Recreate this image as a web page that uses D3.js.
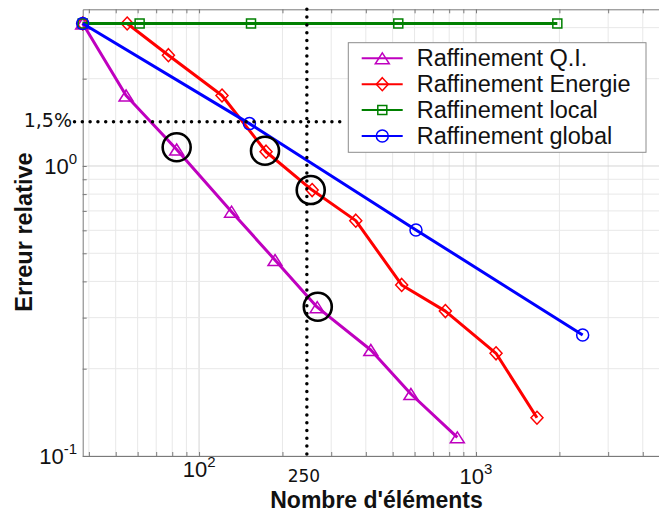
<!DOCTYPE html>
<html><head><meta charset="utf-8">
<script src="https://cdn.jsdelivr.net/npm/d3@7"></script>
<style>body{margin:0;background:#fff} svg{display:block}</style>
</head><body><svg id="c" width="659" height="514"></svg>
<script>
// ---- data ----
const xQI   = [38, 54.5, 83, 131, 188, 267, 417, 582, 856];
const yQI   = [3.10, 1.75, 1.14, 0.696, 0.474, 0.326, 0.232, 0.1636, 0.116];
const xEn   = [38, 55, 77.5, 121, 174.5, 256, 368, 539, 775, 1181, 1660];
const yEn   = [3.10, 3.10, 2.41, 1.75, 1.12, 0.826, 0.648, 0.389, 0.316, 0.226, 0.1355];
const xLoc  = [38, 61, 154, 524, 1966];
const yLoc  = [3.10, 3.10, 3.10, 3.10, 3.10];
const xGlob = [38, 152, 607, 2427];
const yGlob = [3.10, 1.40, 0.602, 0.2614];
const seriesNames = ["Raffinement Q.I.", "Raffinement Energie", "Raffinement local", "Raffinement global"];
const circX = [83, 173, 253, 268.3];
const circY = [1.16, 1.129, 0.826, 0.327];
const xTickValues = [100, 1000];
const xTickExp = ["2", "3"];
const yTickValues = [0.1, 1];
const yTickExp = ["-1", "0"];
const markX = 245, markXLabel = "250";
const markY = 1.42, markYLabel = "1,5%";
const markYFrom = 35.5, markYTo = 325;
const xDomain = [38, 5000];
const yDomain = [0.1, 3.47];
const xLabel = "Nombre d'éléments";
const yLabel = "Erreur relative";

// ---- styles ----
const colors = ["#bf00bf", "#ff0000", "#008000", "#0000ff"];
const markers = ["triangle", "diamond", "square", "circle"];
const xLabelBaselines = [477, 484];

const svg = d3.select("#c");
const L = 82.7, T = 9.3, B = 456;
const x = d3.scaleLog().domain(xDomain).range([L, 669.6]);
const y = d3.scaleLog().domain(yDomain).range([B, T]);
const R = x.range()[1];

const minorX = [];
for (let d = 10; d <= 1000; d *= 10) for (let k = 1; k <= 9; k++) { const v = k*d; if (v >= xDomain[0] && v <= xDomain[1]) minorX.push(v); }
const minorY = [];
for (let d = 0.1; d <= 1.01; d *= 10) for (let k = 1; k <= 9; k++) { const v = +(k*d).toFixed(3); if (v >= yDomain[0] && v <= yDomain[1]) minorY.push(v); }

// grid
const g = svg.append("g");
g.selectAll(".gx").data(minorX).join("line")
  .attr("x1", d => x(d)).attr("x2", d => x(d)).attr("y1", T).attr("y2", B)
  .attr("stroke", d => xTickValues.includes(d) ? "#d4d4d4" : "#e8e8e8").attr("stroke-width", 1);
g.selectAll(".gy").data(minorY).join("line")
  .attr("y1", d => y(d)).attr("y2", d => y(d)).attr("x1", L).attr("x2", R)
  .attr("stroke", d => yTickValues.includes(d) ? "#d4d4d4" : "#e8e8e8").attr("stroke-width", 1);

// axes (inward ticks)
const axCol = "#7a7a7a";
function styleAxis(sel){ sel.select(".domain").attr("stroke", axCol); sel.selectAll(".tick line").attr("stroke", axCol); }
svg.append("g").attr("transform", `translate(0,${B})`)
  .call(d3.axisBottom(x).tickValues(minorX).tickSize(-4).tickSizeOuter(0).tickFormat("")).call(styleAxis);
svg.append("g").attr("transform", `translate(0,${T})`)
  .call(d3.axisTop(x).tickValues(minorX).tickSize(-4).tickSizeOuter(0).tickFormat("")).call(styleAxis);
svg.append("g").attr("transform", `translate(${L},0)`)
  .call(d3.axisLeft(y).tickValues(minorY).tickSize(-4).tickSizeOuter(0).tickFormat("")).call(styleAxis);

// tick labels
const font = "'Liberation Sans', Arial, sans-serif";
xTickValues.forEach((v, i) => {
  const t = svg.append("text").attr("x", x(v)).attr("y", xLabelBaselines[i]).attr("text-anchor", "middle")
    .attr("font-family", font).attr("font-size", 22).attr("fill", "#111");
  t.append("tspan").text("10");
  t.append("tspan").attr("font-size", 15).attr("dy", -10).text(xTickExp[i]);
});
yTickValues.forEach((v, i) => {
  const t = svg.append("text").attr("x", 77).attr("y", y(v) + 8).attr("text-anchor", "end")
    .attr("font-family", font).attr("font-size", 22).attr("fill", "#111");
  t.append("tspan").text("10");
  t.append("tspan").attr("font-size", 15).attr("dy", -10).text(yTickExp[i]);
});
svg.append("text").attr("x", x(markX) - 3).attr("y", 482).attr("text-anchor", "middle")
  .attr("font-family", "'DejaVu Sans', sans-serif").attr("font-size", 17).attr("fill", "#111").text(markXLabel);
svg.append("text").attr("x", 72).attr("y", y(markY) + 5.5).attr("text-anchor", "end")
  .attr("font-family", "'DejaVu Sans', sans-serif").attr("font-size", 19).attr("fill", "#111").text(markYLabel);

// axis titles
svg.append("text").attr("x", 376.5).attr("y", 508).attr("text-anchor", "middle")
  .attr("font-family", font).attr("font-weight", "bold").attr("font-size", 23).attr("fill", "#111").text(xLabel);
svg.append("text").attr("transform", `translate(31.5,232) rotate(-90)`).attr("text-anchor", "middle")
  .attr("font-family", font).attr("font-weight", "bold").attr("font-size", 23.5).attr("fill", "#111").text(yLabel);

// markers
function markerPath(type) {
  if (type === "triangle") return "M0,-5.5L7,5.5L-7,5.5Z";
  if (type === "diamond") return "M0,-6.5L6,0L0,6.5L-6,0Z";
  if (type === "square") return "M-4.5,-4.5H4.5V4.5H-4.5Z";
  return d3.symbol().type(d3.symbolCircle).size(Math.PI*36)();
}

const allX = [xQI, xEn, xLoc, xGlob], allY = [yQI, yEn, yLoc, yGlob];
const line = d3.line().x(d => x(d[0])).y(d => y(d[1]));
allX.forEach((xs, i) => {
  const pts = xs.map((v, j) => [v, allY[i][j]]);
  const sg = svg.append("g");
  sg.append("path").attr("d", line(pts)).attr("fill", "none").attr("stroke", colors[i])
    .attr("stroke-width", 3).attr("stroke-linejoin", "round");
  sg.selectAll("path.m").data(pts).join("path").attr("class", "m")
    .attr("transform", d => `translate(${x(d[0])},${y(d[1])})`)
    .attr("d", markerPath(markers[i])).attr("fill", "none").attr("stroke", colors[i]).attr("stroke-width", 1.5);
});

// dotted reference lines
svg.append("line").attr("x1", x(markX)).attr("x2", x(markX)).attr("y1", T).attr("y2", B)
  .attr("stroke", "#000").attr("stroke-width", 3.5).attr("stroke-dasharray", "0 7.8").attr("stroke-linecap", "round");
svg.append("line").attr("x1", x(markYFrom)).attr("x2", x(markYTo)).attr("y1", y(markY)).attr("y2", y(markY))
  .attr("stroke", "#000").attr("stroke-width", 3.5).attr("stroke-dasharray", "0 7.8").attr("stroke-linecap", "round");

// highlight circles
svg.selectAll("circle.hl").data(circX.map((v, i) => [v, circY[i]])).join("circle").attr("class", "hl")
  .attr("cx", d => x(d[0])).attr("cy", d => y(d[1])).attr("r", 14)
  .attr("fill", "none").attr("stroke", "#000").attr("stroke-width", 2.6);

// legend
const lg = svg.append("g");
lg.append("rect").attr("x", 348.3).attr("y", 42.7).attr("width", 297.7).attr("height", 109.6)
  .attr("fill", "#fff").attr("stroke", "#8c8c8c").attr("stroke-width", 1);
seriesNames.forEach((n, i) => {
  const cy = 58.3 + i * 25.9;
  lg.append("line").attr("x1", 361.7).attr("x2", 402.7).attr("y1", cy).attr("y2", cy)
    .attr("stroke", colors[i]).attr("stroke-width", 2);
  lg.append("path").attr("transform", `translate(382.3,${cy})`).attr("d", markerPath(markers[i]))
    .attr("fill", "none").attr("stroke", colors[i]).attr("stroke-width", 1.5);
  lg.append("text").attr("x", 416.7).attr("y", cy + 8).attr("font-family", font).attr("font-size", 23.5)
    .attr("fill", "#111").text(n);
});
</script></body></html>
